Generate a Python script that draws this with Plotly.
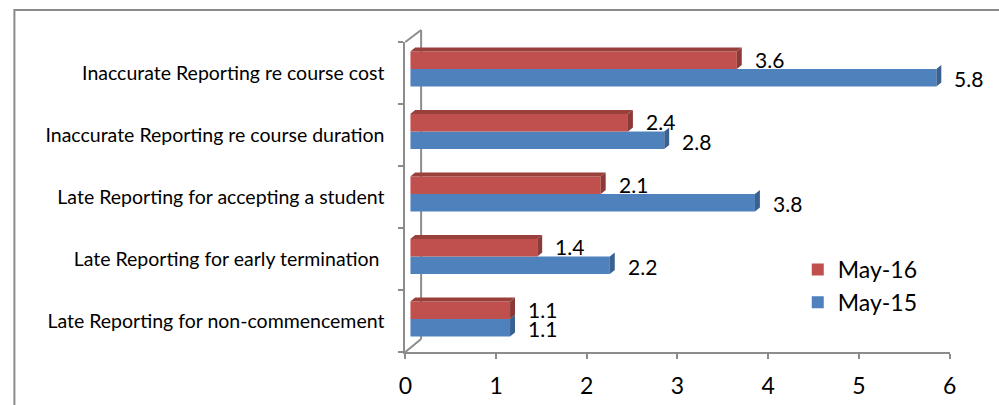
import plotly.graph_objects as go

# ---------------- data ----------------
categories = [
    "Late Reporting for non-commencement",
    "Late Reporting for early termination ",
    "Late Reporting for accepting a student",
    "Inaccurate Reporting re course duration",
    "Inaccurate Reporting re course cost",
]
may15 = [1.1, 2.2, 3.8, 2.8, 5.8]
may16 = [1.1, 1.4, 2.1, 2.4, 3.6]
series_names = ["May-15", "May-16"]
x_ticks = [0, 1, 2, 3, 4, 5, 6]

# ---------------- styling ----------------
W, H = 999, 405
FONT = "Lato"
RED, RED_TOP, RED_SIDE = "#C0504D", "#99403D", "#8C3A37"
BLUE, BLUE_SIDE = "#4F81BD", "#3A6190"
GRID = "#8C8C8C"

def px(p):
    return p / W

def py(p):
    return 1 - p / H

BAR_W = 0.28          # thickness of each bar (category units)
DX = 5 / 92           # 3D depth in x data units
DY = 4 / 62.5         # 3D depth in y category units

pos = list(range(len(categories)))

fig = go.Figure()

# front faces
fig.add_trace(go.Bar(
    x=may15, y=pos, orientation="h", width=BAR_W, offset=-BAR_W,
    marker=dict(color=BLUE, line=dict(width=0)), name=series_names[0],
    xaxis="x", yaxis="y", hoverinfo="skip"))
fig.add_trace(go.Bar(
    x=may16, y=pos, orientation="h", width=BAR_W, offset=0,
    marker=dict(color=RED, line=dict(width=0)), name=series_names[1],
    xaxis="x", yaxis="y", hoverinfo="skip"))

# 3D side/top faces computed from data
def side_poly(vals, y0off, y1off):
    xs, ys = [], []
    for p, v in zip(pos, vals):
        y0, y1 = p + y0off, p + y1off
        xs += [v, v + DX, v + DX, v, None]
        ys += [y0, y0 + DY, y1 + DY, y1, None]
    return xs, ys

def top_poly(vals, yoff):
    xs, ys = [], []
    for p, v in zip(pos, vals):
        y1 = p + yoff
        xs += [0, v, v + DX, DX, None]
        ys += [y1, y1, y1 + DY, y1 + DY, None]
    return xs, ys

for (xs, ys), col in [
    (side_poly(may15, -BAR_W, 0), BLUE_SIDE),
    (side_poly(may16, 0, BAR_W), RED_SIDE),
    (top_poly(may16, BAR_W), RED_TOP),
]:
    fig.add_trace(go.Scatter(
        x=xs, y=ys, mode="lines", fill="toself", fillcolor=col,
        line=dict(width=0, color=col), showlegend=False, hoverinfo="skip",
        xaxis="x", yaxis="y"))

# helper trace for the visible axes
fig.add_trace(go.Scatter(
    x=[0] * len(categories), y=categories, mode="markers",
    marker=dict(opacity=0), showlegend=False, hoverinfo="skip",
    xaxis="x2", yaxis="y2"))

# data labels
annotations = []
for p, v in zip(pos, may15):
    annotations.append(dict(x=v, y=p - BAR_W / 2, xref="x", yref="y", text=f"{v:.1f}",
                            showarrow=False, xanchor="left", yanchor="middle", xshift=16,
                            yshift=-1,
                            font=dict(family=FONT, size=21, color="black")))
for p, v in zip(pos, may16):
    annotations.append(dict(x=v, y=p + BAR_W / 2, xref="x", yref="y", text=f"{v:.1f}",
                            showarrow=False, xanchor="left", yanchor="middle", xshift=16,
                            yshift=1,
                            font=dict(family=FONT, size=21, color="black")))

shapes = [
    # chart border
    dict(type="rect", xref="paper", yref="paper", x0=px(7.5), x1=1.05, y0=-0.05, y1=py(10),
         line=dict(color="#8A8A8A", width=2), layer="below"),
    # back wall edges
    dict(type="line", xref="paper", yref="paper", x0=px(420), x1=px(420), y0=py(30), y1=py(339),
         line=dict(color=GRID, width=2), layer="below"),
    dict(type="line", xref="paper", yref="paper", x0=px(404), x1=px(420), y0=py(42), y1=py(30),
         line=dict(color=GRID, width=2), layer="below"),
    dict(type="line", xref="paper", yref="paper", x0=px(404), x1=px(420), y0=py(352), y1=py(339),
         line=dict(color=GRID, width=2), layer="below"),
]

fig.update_layout(
    width=W, height=H,
    margin=dict(l=0, r=0, t=0, b=0),
    paper_bgcolor="white", plot_bgcolor="rgba(0,0,0,0)",
    font=dict(family=FONT, color="black"),
    barmode="overlay",
    showlegend=True,
    legend=dict(x=px(802), y=py(248), xanchor="left", yanchor="top",
                traceorder="reversed", font=dict(family=FONT, size=23, color="black"),
                bgcolor="rgba(0,0,0,0)"),
    xaxis=dict(domain=[px(409), px(961)], range=[0, 6], visible=False, anchor="y"),
    yaxis=dict(domain=[py(350.25), py(37.75)], range=[-0.5, 4.5], visible=False, anchor="x"),
    xaxis2=dict(domain=[px(404), px(956)], range=[0, 6], anchor="y2",
                tickmode="array", tickvals=x_ticks, ticktext=[str(t) for t in x_ticks],
                showline=True, linecolor=GRID, linewidth=2, ticks="outside", ticklen=5,
                tickcolor=GRID, tickwidth=2, showgrid=False, zeroline=False,
                tickfont=dict(family=FONT, size=23, color="black"), ticklabelstandoff=7),
    yaxis2=dict(domain=[py(352), py(42)], type="category", categoryorder="array",
                categoryarray=categories, range=[-0.5, 4.5], anchor="x2",
                showline=True, linecolor=GRID, linewidth=2, ticks="outside", ticklen=5,
                tickcolor=GRID, tickwidth=2, tickson="boundaries", showgrid=False,
                tickfont=dict(family=FONT, size=19.5, color="black"), ticklabelstandoff=15),
    annotations=annotations,
    shapes=shapes,
)

fig.write_html("out.html")
